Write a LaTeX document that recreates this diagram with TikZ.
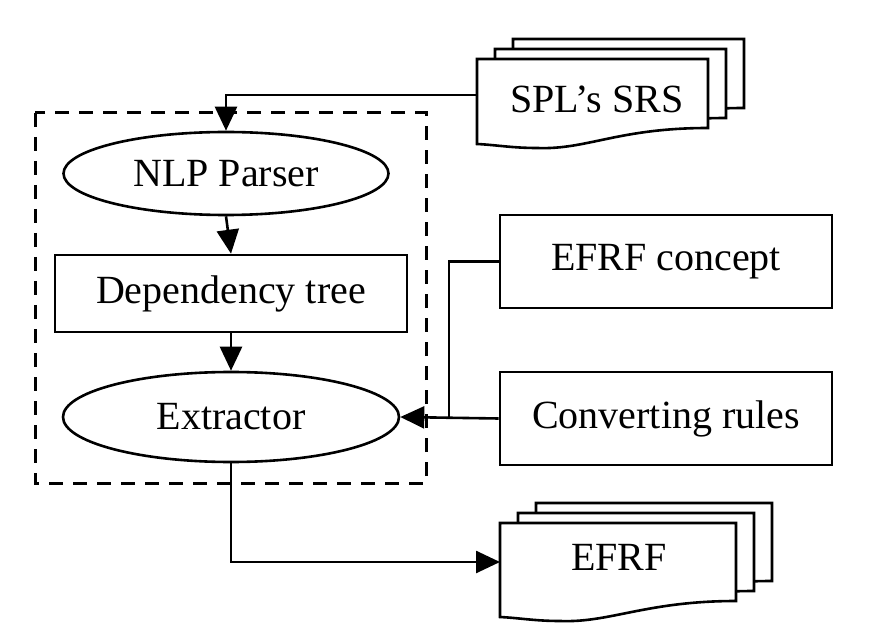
\documentclass[tikz,border=0pt]{standalone}
\usepackage{fontspec}
\setmainfont{Liberation Serif}
\usepackage{tikz}
\usetikzlibrary{positioning, arrows.meta, shapes.geometric}

\begin{document}
\begin{tikzpicture}[x=1pt, y=-1pt, line width=2.6pt,
  every node/.style={font=\fontsize{40}{48}\selectfont},
  procnode/.style={ellipse, draw, inner sep=0pt},
  boxnode/.style={rectangle, draw, inner sep=0pt},
  docpage/.style={fill=white, draw, line join=miter},
  groupbox/.style={dash pattern=on 14pt off 10pt, line width=3pt},
  flow/.style={-{Triangle[length=24pt,width=22pt]}}]
\useasboundingbox (0,0) rectangle (870,644);

% stacked documents (input and output)
\foreach \L/\T/\W/\H in {477/59/231/69, 500/523/236/78}
  \foreach \k in {2,1,0}
    \filldraw[docpage, shift={(18*\k,-10*\k)}] (\L,\T) -- ++(\W,0) -- ++(0,\H)
      .. controls +(-90,0) and +(50,2) .. ++(-\W+60,20)
      .. controls +(-25,0) and +(20,1) .. ++(-60,-4) -- cycle;

\node (srs) at (597,99.5) {SPL’s SRS};
\node (efrf) at (619,557) {EFRF};
\coordinate (srs-in) at (477,95);
\coordinate (efrf-in) at (500,562);

% extraction part
\draw[groupbox] (35,113) rectangle (426,483);
\node[procnode, minimum width=325pt, minimum height=83pt] (nlp) at (226,173.5) {NLP Parser};
\node[boxnode, minimum width=352pt, minimum height=77pt] (dep) at (231,293.5) {Dependency tree};
\node[procnode, minimum width=336pt, minimum height=90pt] (ext) at (231,417) {Extractor};

% knowledge
\node[boxnode, minimum width=332pt, minimum height=93pt] (concept) at (666,261.5) {EFRF concept};
\node[boxnode, minimum width=332pt, minimum height=93pt] (rules) at (666,418.5) {Converting rules};
\coordinate (join) at (449,418.5);

\draw[flow] (srs-in) -| (nlp.north);
\draw[flow] (nlp.south) -- (dep.north);
\draw[flow] (dep.south) -- (ext.north);
\draw (concept.west) -| (join);
\draw[flow] (rules.west) -- (ext.east);
\draw[flow] (ext.south) |- (efrf-in);
\end{tikzpicture}
\end{document}
